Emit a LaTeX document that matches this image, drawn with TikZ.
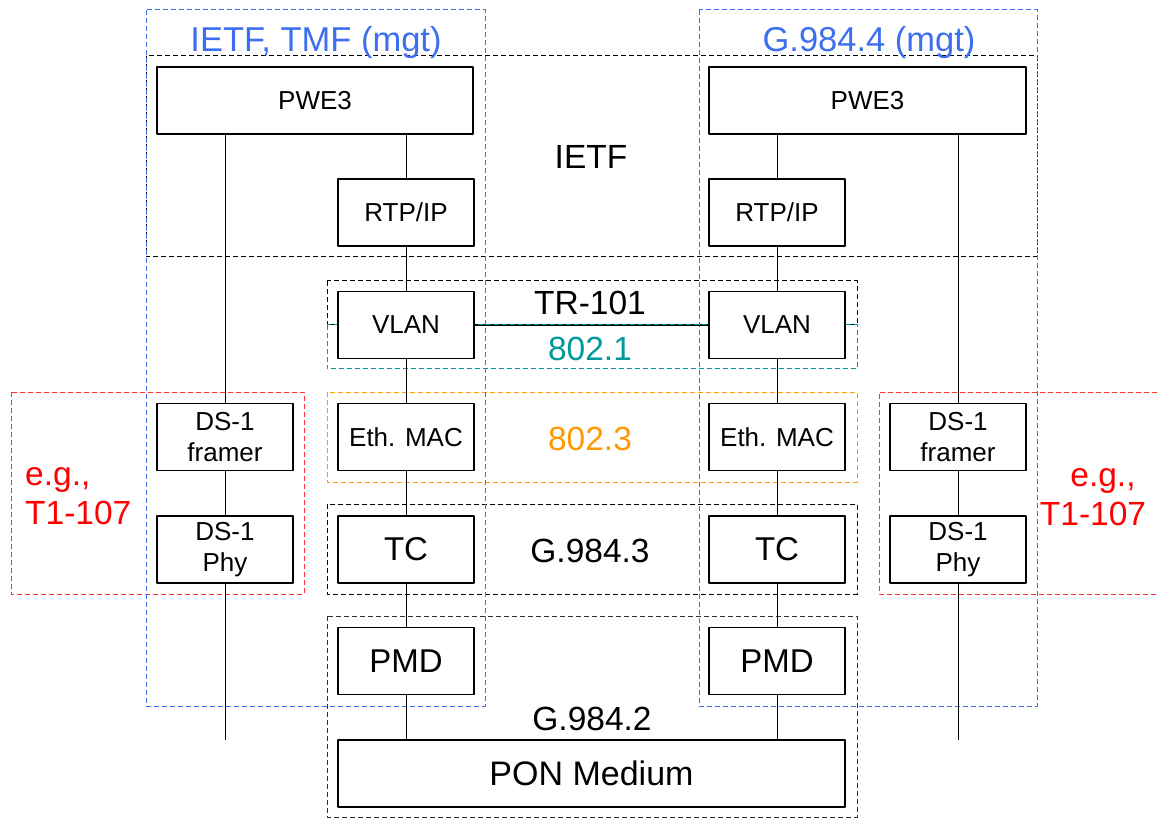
\documentclass[tikz,border=0pt]{standalone}
\usepackage{fontspec}
\setmainfont{Liberation Sans}
\definecolor{mgtblue}{RGB}{60,110,240}
\definecolor{dotone}{RGB}{0,153,153}
\definecolor{dotthree}{RGB}{255,153,0}
\definecolor{egred}{RGB}{255,0,0}
\begin{document}
\begin{tikzpicture}[x=1pt,y=-1pt,line join=round,
    box/.style={draw,fill=white,line width=1.1pt,minimum width=136pt,minimum height=67pt,inner sep=0pt,align=center,font=\fontsize{26}{31}\selectfont},
    bigbox/.style={box,font=\fontsize{33}{38}\selectfont},
    frame/.style={dash pattern=on 5pt off 3pt,line width=1pt},
    lbl/.style={inner sep=0pt,align=center,font=\fontsize{33.5}{39}\selectfont}]
	\def\cA{225} \def\cB{406} \def\cC{777} \def\cD{958} % columns
	\def\yend{740}
	\useasboundingbox (0,0) rectangle (1157,818);
	% dashed frames
	\draw[frame] (146,56) rectangle (1037,257);
	\draw[frame] (327,281) rectangle (857,325);
	\draw[frame,dotone] (327,325) rectangle (857,369);
	\draw[frame,dotthree] (327,392) rectangle (857,482);
	\draw[frame] (327,504) rectangle (857,594);
	\draw[frame,black!80] (327,616) rectangle (857,817);
	\draw[frame,egred!80] (11,392) rectangle (304,594);
	\draw[frame,egred!80] (1165,392) -- (879,392) -- (879,594) -- (1165,594);
	\draw[frame,mgtblue] (146,10) rectangle (485,706);
	\draw[frame,mgtblue] (699,10) rectangle (1037,706);
	% frame labels
	\node[lbl,anchor=base,text=mgtblue,font=\fontsize{34.5}{40}\selectfont] (tmf) at (316,52) {IETF, TMF (mgt)};
	\node[lbl,anchor=base,text=mgtblue,font=\fontsize{34.5}{40}\selectfont] (omci) at (869,52) {G.984.4 (mgt)};
	\node[lbl,anchor=base] (ietf) at (591,169) {IETF};
	\node[lbl,anchor=base] (tr) at (590,315) {TR-101};
	\node[lbl,anchor=base,text=dotone] (q) at (590,361) {802.1};
	\node[lbl,anchor=base,text=dotthree] (eth) at (590,450) {802.3};
	\node[lbl,anchor=base] (gtc) at (590,562) {G.984.3};
	\node[lbl,anchor=base] (gpmd) at (592,730) {G.984.2};
	\node[lbl,anchor=west,align=left,text=egred] (egL) at (25,496) {e.g.,\\T1-107};
	\node[lbl,text=egred] (egR) at (1093,497) {\hspace*{20pt}e.g.,\\T1-107};
	% boxes
	\node[box,minimum width=316pt] (pweL) at (315,100.5) {PWE3};
	\node[box,minimum width=317pt] (pweR) at (867.5,100.5) {PWE3};
	\node[bigbox,minimum width=507pt,font=\fontsize{34}{40}\selectfont] (pon) at (591.5,773.5) {PON Medium};
	\foreach \s/\px in {L/\cB,R/\cC}{
		\node[box] (rtp\s) at (\px,212.5) {RTP/IP};
		\node[box] (vlan\s) at (\px,325) {VLAN};
		\node[box] (mac\s) at (\px,437) {Eth. MAC};
		\node[bigbox] (tc\s) at (\px,549.5) {TC};
		\node[bigbox] (pmd\s) at (\px,661) {PMD};
		\draw[line width=0.8pt] (rtp\s.north |- pwe\s.south) -- (rtp\s) (rtp\s) -- (vlan\s) -- (mac\s) -- (tc\s) -- (pmd\s) -- (pmd\s |- pon.north);
	}
	\foreach \s/\px in {L/\cA,R/\cD}{
		\node[box] (dsf\s) at (\px,437) {DS-1\\framer};
		\node[box] (dsp\s) at (\px,549.5) {DS-1\\Phy};
		\coordinate (end\s) at (\px,\yend);
		\draw[line width=0.8pt] (dsf\s.north |- pwe\s.south) -- (dsf\s) -- (dsp\s) -- (end\s);
	}
	\draw[line width=0.8pt] (vlanL) -- (vlanR);
\end{tikzpicture}
\end{document}
